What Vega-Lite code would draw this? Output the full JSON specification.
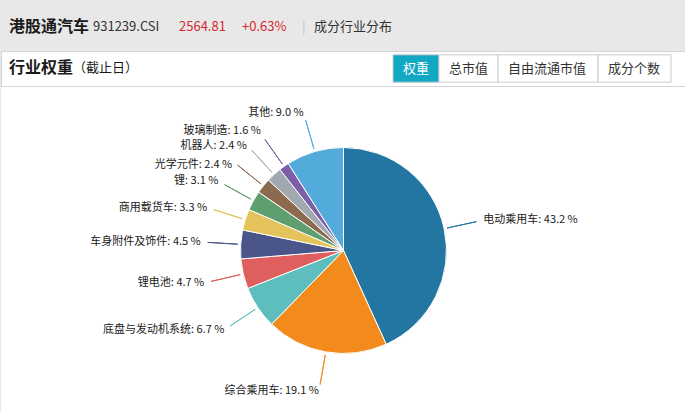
{
  "$schema": "https://vega.github.io/schema/vega-lite/v6.json",
  "background": "#e8e8e8",
  "padding": 0,
  "spacing": 0,
  "datasets": {
    "header": [
      { "part": "港股通汽车", "role": "name", "seq": 0 },
      { "part": "931239.CSI", "role": "code", "seq": 1 },
      { "part": "2564.81", "role": "quote", "seq": 2 },
      { "part": "+0.63%", "role": "quote", "seq": 3 },
      { "part": "|", "role": "divider", "seq": 4 },
      { "part": "成分行业分布", "role": "section", "seq": 5 }
    ],
    "heading": [
      { "part": "行业权重", "role": "title", "seq": 0 },
      { "part": "（截止日）", "role": "note", "seq": 1 }
    ],
    "tabs": [
      { "tab": "权重", "seq": 0, "state": "selected" },
      { "tab": "总市值", "seq": 1, "state": "normal" },
      { "tab": "自由流通市值", "seq": 2, "state": "normal" },
      { "tab": "成分个数", "seq": 3, "state": "normal" }
    ],
    "industries": [
      { "industry": "电动乘用车", "weight": 43.2, "rank": 1 },
      { "industry": "综合乘用车", "weight": 19.1, "rank": 2 },
      { "industry": "底盘与发动机系统", "weight": 6.7, "rank": 3 },
      { "industry": "锂电池", "weight": 4.7, "rank": 4 },
      { "industry": "车身附件及饰件", "weight": 4.5, "rank": 5 },
      { "industry": "商用载货车", "weight": 3.3, "rank": 6 },
      { "industry": "锂", "weight": 3.1, "rank": 7 },
      { "industry": "光学元件", "weight": 2.4, "rank": 8 },
      { "industry": "机器人", "weight": 2.4, "rank": 9 },
      { "industry": "玻璃制造", "weight": 1.6, "rank": 10 },
      { "industry": "其他", "weight": 9.0, "rank": 11 }
    ]
  },
  "vconcat": [
    {
      "width": 685,
      "height": 50,
      "data": { "name": "header" },
      "encoding": {
        "x": {
          "field": "seq",
          "type": "quantitative",
          "scale": { "domain": [0, 1, 2, 3, 4, 5], "range": [8, 92, 178, 241, 301, 313], "nice": false, "zero": false },
          "axis": null
        },
        "text": { "field": "part" }
      },
      "layer": [
        {
          "transform": [{ "filter": "datum.role == 'name'" }],
          "mark": { "type": "text", "align": "left", "baseline": "middle", "dy": 2, "fontSize": 16, "fontWeight": "bold", "color": "#1a1a1a" }
        },
        {
          "transform": [{ "filter": "datum.role != 'name'" }],
          "mark": { "type": "text", "align": "left", "baseline": "middle", "dy": 2, "fontSize": 13 },
          "encoding": {
            "color": {
              "field": "role",
              "type": "nominal",
              "scale": { "domain": ["code", "quote", "divider", "section"], "range": ["#333333", "#d7282e", "#c4c4c4", "#333333"] },
              "legend": null
            }
          }
        }
      ]
    },
    {
      "width": 685,
      "height": 35,
      "view": { "fill": "white", "stroke": "#d4d4d4" },
      "layer": [
        {
          "data": { "name": "heading" },
          "mark": {
            "type": "text",
            "align": "left",
            "baseline": "middle",
            "dy": -1,
            "color": "#1a1a1a",
            "fontWeight": { "expr": "datum.role == 'title' ? 'bold' : 'normal'" }
          },
          "encoding": {
            "x": {
              "field": "seq",
              "type": "quantitative",
              "scale": { "domain": [0, 1], "range": [8, 72], "nice": false, "zero": false },
              "axis": null
            },
            "text": { "field": "part" },
            "size": {
              "field": "role",
              "type": "nominal",
              "scale": { "domain": ["title", "note"], "range": [16, 13] },
              "legend": null
            }
          }
        },
        {
          "data": { "name": "tabs" },
          "encoding": {
            "y": {
              "datum": "tabs",
              "type": "nominal",
              "scale": { "type": "band", "paddingInner": 0, "paddingOuter": 0.14 },
              "axis": null
            }
          },
          "layer": [
            {
              "mark": { "type": "bar", "stroke": "#cccccc", "strokeWidth": 1 },
              "encoding": {
                "x": {
                  "aggregate": "count",
                  "type": "quantitative",
                  "stack": "zero",
                  "scale": { "domain": [0, 1, 2, 3, 4], "range": [392, 438, 497, 597, 670], "nice": false, "zero": false },
                  "axis": null
                },
                "detail": { "field": "tab" },
                "order": { "field": "seq", "type": "quantitative" },
                "fill": {
                  "field": "state",
                  "type": "nominal",
                  "scale": { "domain": ["selected", "normal"], "range": ["#12a8c4", "#ffffff"] },
                  "legend": null
                }
              }
            },
            {
              "mark": { "type": "text", "align": "left", "baseline": "middle", "dx": 10, "fontSize": 13 },
              "encoding": {
                "x": { "field": "seq", "type": "quantitative" },
                "text": { "field": "tab" },
                "color": {
                  "field": "state",
                  "type": "nominal",
                  "scale": { "domain": ["selected", "normal"], "range": ["#ffffff", "#333333"] },
                  "legend": null
                }
              }
            }
          ]
        }
      ],
      "resolve": { "scale": { "x": "independent", "y": "independent" } }
    },
    {
      "width": 685,
      "height": 327,
      "view": { "fill": "white" },
      "data": { "name": "industries" },
      "encoding": {
        "theta": { "field": "weight", "type": "quantitative", "stack": true },
        "order": { "field": "rank", "type": "quantitative" },
        "color": {
          "field": "industry",
          "type": "nominal",
          "scale": {
            "domain": ["电动乘用车", "综合乘用车", "底盘与发动机系统", "锂电池", "车身附件及饰件", "商用载货车", "锂", "光学元件", "机器人", "玻璃制造", "其他"],
            "range": ["#2376a1", "#f28b1c", "#5ebebe", "#df5e5e", "#4a558a", "#e4c35a", "#5f9e6e", "#8c6a4f", "#a0a8b0", "#7d5ea8", "#52abdb"]
          },
          "legend": null
        }
      },
      "layer": [
        {
          "mark": { "type": "arc", "outerRadius": 103, "stroke": "white", "strokeWidth": 1 }
        },
        {
          "mark": { "type": "arc", "filled": false, "fillOpacity": 0, "innerRadius": 106, "outerRadius": 136, "padAngle": 3, "strokeWidth": 1 }
        },
        {
          "mark": {
            "type": "text",
            "radius": 143,
            "baseline": "middle",
            "fontSize": 11,
            "align": { "expr": "datum.industry == '电动乘用车' ? 'left' : 'right'" },
            "dy": { "expr": "datum.industry == '玻璃制造' ? -3 : datum.industry == '机器人' ? 1 : datum.industry == '光学元件' ? 4 : 0" },
            "text": { "expr": "datum.industry + ': ' + format(datum.weight, '.1f') + ' %'" }
          },
          "encoding": { "color": { "value": "#1a1a1a" } }
        }
      ]
    }
  ],
  "resolve": {
    "scale": { "color": "independent", "fill": "independent", "size": "independent" }
  },
  "config": {
    "font": "Noto Sans CJK SC",
    "view": { "stroke": null }
  }
}
